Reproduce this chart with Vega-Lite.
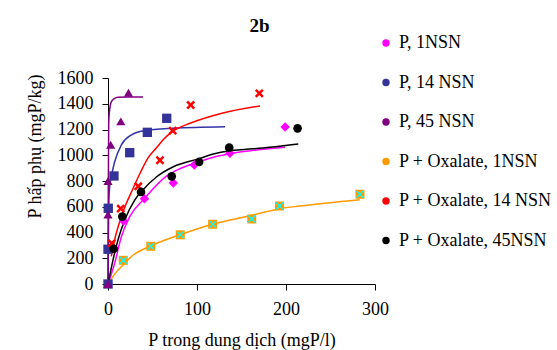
{
  "$schema": "https://vega.github.io/schema/vega-lite/v6.json",
  "width": 267,
  "height": 206,
  "autosize": {"type": "none"},
  "padding": {"left": 108, "top": 78, "right": 182, "bottom": 66},
  "background": "white",
  "config": {
    "view": {"stroke": null},
    "font": "Liberation Serif",
    "axis": {
      "grid": false,
      "domainColor": "black",
      "tickColor": "black",
      "labelColor": "black",
      "titleColor": "black",
      "labelFont": "Liberation Serif",
      "titleFont": "Liberation Serif",
      "labelFontSize": 18,
      "titleFontSize": 18,
      "titleFontWeight": "normal",
      "tickSize": 6,
      "domainWidth": 1,
      "tickWidth": 1,
      "labelFlush": false
    }
  },
  "title": {"text": "2b", "font": "Liberation Serif", "fontSize": 19, "fontWeight": "bold", "color": "black", "anchor": "middle", "frame": "group", "dx": 18, "offset": -17, "baseline": "alphabetic"},
  "datasets": {
    "pts": [
      {"series": "P, 1NSN", "x": 17.5, "y": 490},
      {"series": "P, 1NSN", "x": 41, "y": 662},
      {"series": "P, 1NSN", "x": 73.4, "y": 785},
      {"series": "P, 1NSN", "x": 97, "y": 924},
      {"series": "P, 1NSN", "x": 137, "y": 1015},
      {"series": "P, 1NSN", "x": 199, "y": 1220},
      {"series": "P, 14 NSN", "x": 0, "y": 0},
      {"series": "P, 14 NSN", "x": 0, "y": 270},
      {"series": "P, 14 NSN", "x": 0.3, "y": 588},
      {"series": "P, 14 NSN", "x": 6.7, "y": 839},
      {"series": "P, 14 NSN", "x": 24.4, "y": 1020},
      {"series": "P, 14 NSN", "x": 44.2, "y": 1178},
      {"series": "P, 14 NSN", "x": 66, "y": 1287},
      {"series": "P, 45 NSN", "x": 0, "y": 0},
      {"series": "P, 45 NSN", "x": 0, "y": 540},
      {"series": "P, 45 NSN", "x": 0, "y": 800},
      {"series": "P, 45 NSN", "x": 3, "y": 1082},
      {"series": "P, 45 NSN", "x": 14.4, "y": 1263},
      {"series": "P, 45 NSN", "x": 23, "y": 1485},
      {"series": "P + Oxalate, 1NSN", "x": 17.2, "y": 184},
      {"series": "P + Oxalate, 1NSN", "x": 48.1, "y": 293},
      {"series": "P + Oxalate, 1NSN", "x": 81.2, "y": 382},
      {"series": "P + Oxalate, 1NSN", "x": 117.6, "y": 464},
      {"series": "P + Oxalate, 1NSN", "x": 161.5, "y": 505},
      {"series": "P + Oxalate, 1NSN", "x": 192.7, "y": 606},
      {"series": "P + Oxalate, 1NSN", "x": 283.1, "y": 697},
      {"series": "P + Oxalate, 14 NSN", "x": 4.2, "y": 316},
      {"series": "P + Oxalate, 14 NSN", "x": 14.3, "y": 586},
      {"series": "P + Oxalate, 14 NSN", "x": 34, "y": 759},
      {"series": "P + Oxalate, 14 NSN", "x": 58.4, "y": 961},
      {"series": "P + Oxalate, 14 NSN", "x": 72.7, "y": 1191},
      {"series": "P + Oxalate, 14 NSN", "x": 92.9, "y": 1390},
      {"series": "P + Oxalate, 14 NSN", "x": 170, "y": 1481},
      {"series": "P + Oxalate, 45NSN", "x": 6.5, "y": 274},
      {"series": "P + Oxalate, 45NSN", "x": 16.1, "y": 523},
      {"series": "P + Oxalate, 45NSN", "x": 37.1, "y": 715},
      {"series": "P + Oxalate, 45NSN", "x": 71.6, "y": 836},
      {"series": "P + Oxalate, 45NSN", "x": 102.4, "y": 948},
      {"series": "P + Oxalate, 45NSN", "x": 136.2, "y": 1059},
      {"series": "P + Oxalate, 45NSN", "x": 213, "y": 1209}
    ],
    "fits": [
      {"fit": "P, 1NSN", "x": 0, "y": 0},
      {"fit": "P, 1NSN", "x": 7.5, "y": 161},
      {"fit": "P, 1NSN", "x": 15, "y": 367},
      {"fit": "P, 1NSN", "x": 24.4, "y": 523},
      {"fit": "P, 1NSN", "x": 41.2, "y": 666},
      {"fit": "P, 1NSN", "x": 66, "y": 840},
      {"fit": "P, 1NSN", "x": 80.9, "y": 895},
      {"fit": "P, 1NSN", "x": 95.8, "y": 935},
      {"fit": "P, 1NSN", "x": 118.3, "y": 985},
      {"fit": "P, 1NSN", "x": 137, "y": 1012},
      {"fit": "P, 1NSN", "x": 199, "y": 1062},
      {"fit": "P, 14 NSN", "x": 0, "y": 0},
      {"fit": "P, 14 NSN", "x": 0.8, "y": 600},
      {"fit": "P, 14 NSN", "x": 2, "y": 770},
      {"fit": "P, 14 NSN", "x": 3.7, "y": 834},
      {"fit": "P, 14 NSN", "x": 7.5, "y": 950},
      {"fit": "P, 14 NSN", "x": 15, "y": 1080},
      {"fit": "P, 14 NSN", "x": 26, "y": 1157},
      {"fit": "P, 14 NSN", "x": 41, "y": 1191},
      {"fit": "P, 14 NSN", "x": 73, "y": 1210},
      {"fit": "P, 14 NSN", "x": 131.5, "y": 1222},
      {"fit": "P, 45 NSN", "x": 0, "y": 0},
      {"fit": "P, 45 NSN", "x": 0.3, "y": 700},
      {"fit": "P, 45 NSN", "x": 0.8, "y": 1250},
      {"fit": "P, 45 NSN", "x": 1.5, "y": 1330},
      {"fit": "P, 45 NSN", "x": 3.7, "y": 1415},
      {"fit": "P, 45 NSN", "x": 7, "y": 1440},
      {"fit": "P, 45 NSN", "x": 11, "y": 1450},
      {"fit": "P, 45 NSN", "x": 22, "y": 1452},
      {"fit": "P, 45 NSN", "x": 39.3, "y": 1452},
      {"fit": "P + Oxalate, 1NSN", "x": 0, "y": 0},
      {"fit": "P + Oxalate, 1NSN", "x": 9.7, "y": 96},
      {"fit": "P + Oxalate, 1NSN", "x": 17.2, "y": 150},
      {"fit": "P + Oxalate, 1NSN", "x": 28.4, "y": 225},
      {"fit": "P + Oxalate, 1NSN", "x": 47.2, "y": 293},
      {"fit": "P + Oxalate, 1NSN", "x": 80.9, "y": 382},
      {"fit": "P + Oxalate, 1NSN", "x": 118.3, "y": 466},
      {"fit": "P + Oxalate, 1NSN", "x": 159.6, "y": 530},
      {"fit": "P + Oxalate, 1NSN", "x": 193, "y": 585},
      {"fit": "P + Oxalate, 1NSN", "x": 215.7, "y": 606},
      {"fit": "P + Oxalate, 1NSN", "x": 283, "y": 655},
      {"fit": "P + Oxalate, 14 NSN", "x": 3.7, "y": 215},
      {"fit": "P + Oxalate, 14 NSN", "x": 7.9, "y": 355},
      {"fit": "P + Oxalate, 14 NSN", "x": 14.9, "y": 523},
      {"fit": "P + Oxalate, 14 NSN", "x": 28, "y": 740},
      {"fit": "P + Oxalate, 14 NSN", "x": 36, "y": 860},
      {"fit": "P + Oxalate, 14 NSN", "x": 45, "y": 980},
      {"fit": "P + Oxalate, 14 NSN", "x": 54.7, "y": 1060},
      {"fit": "P + Oxalate, 14 NSN", "x": 62, "y": 1120},
      {"fit": "P + Oxalate, 14 NSN", "x": 69.7, "y": 1170},
      {"fit": "P + Oxalate, 14 NSN", "x": 77.2, "y": 1205},
      {"fit": "P + Oxalate, 14 NSN", "x": 92.1, "y": 1248},
      {"fit": "P + Oxalate, 14 NSN", "x": 129.2, "y": 1328},
      {"fit": "P + Oxalate, 14 NSN", "x": 170.8, "y": 1383},
      {"fit": "P + Oxalate, 45NSN", "x": 0, "y": 0},
      {"fit": "P + Oxalate, 45NSN", "x": 5.6, "y": 186},
      {"fit": "P + Oxalate, 45NSN", "x": 11.2, "y": 342},
      {"fit": "P + Oxalate, 45NSN", "x": 18.8, "y": 497},
      {"fit": "P + Oxalate, 45NSN", "x": 30, "y": 652},
      {"fit": "P + Oxalate, 45NSN", "x": 37.4, "y": 717},
      {"fit": "P + Oxalate, 45NSN", "x": 54.7, "y": 833},
      {"fit": "P + Oxalate, 45NSN", "x": 73.4, "y": 911},
      {"fit": "P + Oxalate, 45NSN", "x": 103.4, "y": 976},
      {"fit": "P + Oxalate, 45NSN", "x": 118.3, "y": 1010},
      {"fit": "P + Oxalate, 45NSN", "x": 137, "y": 1035},
      {"fit": "P + Oxalate, 45NSN", "x": 155.8, "y": 1046},
      {"fit": "P + Oxalate, 45NSN", "x": 182, "y": 1062},
      {"fit": "P + Oxalate, 45NSN", "x": 213.8, "y": 1087}
    ]
  },
  "encoding": {
    "x": {
      "field": "x", "type": "quantitative",
      "scale": {"domain": [0, 300], "nice": false},
      "axis": {"values": [0, 100, 200, 300], "format": "d", "title": "P trong dung dịch (mgP/l)", "titleY": 56, "titleBaseline": "middle", "labelPadding": 10}
    },
    "y": {
      "field": "y", "type": "quantitative",
      "scale": {"domain": [0, 1600], "nice": false},
      "axis": {"values": [0, 200, 400, 600, 800, 1000, 1200, 1400, 1600], "format": "d", "title": "P hấp phụ (mgP/kg)", "titleX": -73, "titleY": 68, "titleAlign": "center", "titleBaseline": "middle", "labelPadding": 9}
    }
  },
  "layer": [
    {
      "data": {"name": "fits"},
      "mark": {"type": "line", "interpolate": "monotone", "strokeWidth": 1.5},
      "encoding": {
        "color": {
          "field": "fit", "type": "nominal",
          "scale": {"domain": ["P, 1NSN", "P, 14 NSN", "P, 45 NSN", "P + Oxalate, 1NSN", "P + Oxalate, 14 NSN", "P + Oxalate, 45NSN"], "range": ["#FF00FF", "#3333AA", "#800080", "#FF9900", "#FF0000", "#000000"]},
          "legend": null
        }
      }
    },
    {
      "data": {"name": "pts"},
      "mark": {"type": "point", "filled": true, "opacity": 1},
      "encoding": {
        "color": {
          "field": "series", "type": "nominal",
          "scale": {"domain": ["P, 1NSN", "P, 14 NSN", "P, 45 NSN", "P + Oxalate, 1NSN", "P + Oxalate, 14 NSN", "P + Oxalate, 45NSN"], "range": ["#FF00FF", "#333399", "#800080", "#FF9900", "#FF0000", "#000000"]},
          "legend": {"title": null, "orient": "none", "legendX": 269, "legendY": -44, "padding": 0, "labelFont": "Liberation Serif", "labelFontSize": 18, "labelColor": "black", "rowPadding": 21.5, "symbolSize": 55, "labelOffset": 4, "labelLimit": 400}
        },
        "shape": {
          "field": "series", "type": "nominal",
          "scale": {"domain": ["P, 1NSN", "P, 14 NSN", "P, 45 NSN", "P + Oxalate, 1NSN", "P + Oxalate, 14 NSN", "P + Oxalate, 45NSN"], "range": ["diamond", "square", "triangle-up", "square", "M-1,-0.6L-0.6,-1L0,-0.4L0.6,-1L1,-0.6L0.4,0L1,0.6L0.6,1L0,0.4L-0.6,1L-1,0.6L-0.4,0Z", "circle"]},
          "legend": {"title": null, "orient": "none", "legendX": 269, "legendY": -44, "padding": 0, "labelFont": "Liberation Serif", "labelFontSize": 18, "labelColor": "black", "rowPadding": 21.5, "symbolSize": 55, "labelOffset": 4, "labelLimit": 400}
        },
        "size": {
          "field": "series", "type": "ordinal",
          "scale": {"domain": ["P, 1NSN", "P, 14 NSN", "P, 45 NSN", "P + Oxalate, 1NSN", "P + Oxalate, 14 NSN", "P + Oxalate, 45NSN"], "range": [90, 75, 100, 200, 55, 95]},
          "legend": null
        }
      }
    },
    {
      "data": {"name": "pts"},
      "transform": [{"filter": "datum.series === 'P + Oxalate, 1NSN'"}],
      "mark": {"type": "point", "filled": true, "opacity": 1, "color": "#00FFFF", "size": 60, "shape": "M-1,-0.75L-0.75,-1L0,-0.25L0.75,-1L1,-0.75L0.25,0L1,0.75L0.75,1L0,0.25L-0.75,1L-1,0.75L-0.25,0Z"}
    }
  ],
  "resolve": {"scale": {"color": "independent"}}
}
